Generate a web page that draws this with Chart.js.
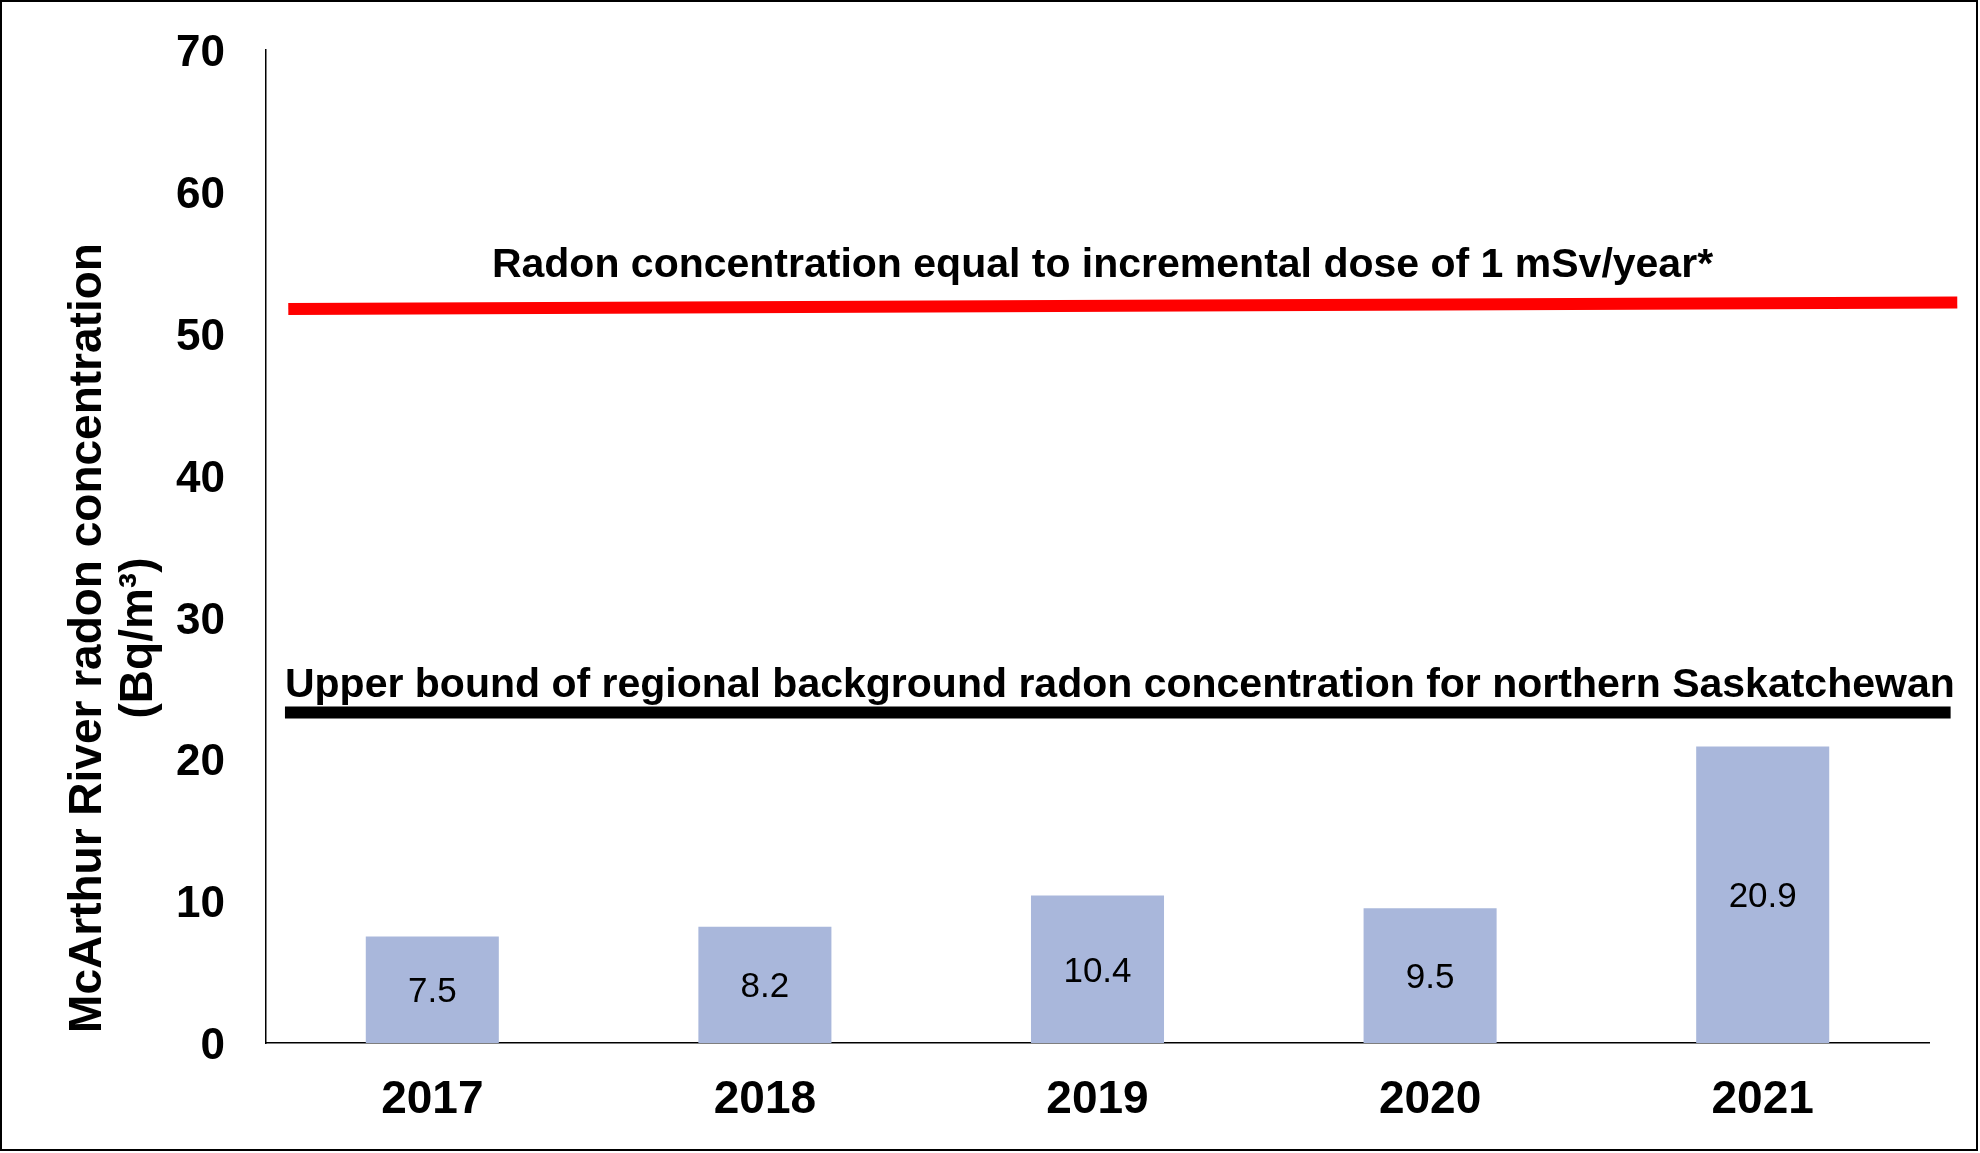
<!DOCTYPE html>
<html>
<head>
<meta charset="utf-8">
<title>McArthur River radon concentration</title>
<script src="https://cdn.jsdelivr.net/npm/chart.js@4.4.1/dist/chart.umd.min.js"></script>
<style>
  html, body { margin: 0; padding: 0; background: white; }
  canvas { display: block; }
</style>
</head>
<body>
<canvas id="chart" width="1980" height="1153"></canvas>
<script>
// data
const years = ['2017', '2018', '2019', '2020', '2021'];
const radon = [7.5, 8.2, 10.4, 9.5, 20.9];
const yTicks = [0, 10, 20, 30, 40, 50, 60, 70];

// reference lines: value at left end / right end, x range in category units
const doseLineValues = [51.75, 52.2];
const doseLineRange = [-0.433, 4.585];
const doseLabel = 'Radon concentration equal to incremental dose of 1 mSv/year*';
const backgroundLineValues = [23.3, 23.3];
const backgroundLineRange = [-0.443, 4.565];
const backgroundLabel = 'Upper bound of regional background radon concentration for northern Saskatchewan';

const yTitle = ['McArthur River radon concentration', '(Bq/m³)'];

const FONT = '"Liberation Sans", Arial, sans-serif';
const BAR_COLOR = '#A9B7DB';

const referenceLines = {
  id: 'referenceLines',
  afterDatasetsDraw(chart) {
    const ctx = chart.ctx;
    const x = chart.scales.x;
    const y = chart.scales.y;

    const lines = [
      { values: doseLineValues, range: doseLineRange, color: '#FF0000' },
      { values: backgroundLineValues, range: backgroundLineRange, color: '#000000' },
    ];

    ctx.save();
    ctx.lineWidth = 12;
    ctx.lineCap = 'butt';
    lines.forEach(l => {
      ctx.strokeStyle = l.color;
      ctx.beginPath();
      ctx.moveTo(x.getPixelForValue(l.range[0]), y.getPixelForValue(l.values[0]));
      ctx.lineTo(x.getPixelForValue(l.range[1]), y.getPixelForValue(l.values[1]));
      ctx.stroke();
    });

    ctx.fillStyle = '#000';
    ctx.font = `bold 41px ${FONT}`;
    ctx.textBaseline = 'alphabetic';

    ctx.textAlign = 'center';
    ctx.fillText(doseLabel, x.getPixelForValue(2.015), y.getPixelForValue(54.0));

    ctx.textAlign = 'left';
    ctx.fillText(backgroundLabel, x.getPixelForValue(backgroundLineRange[0]), y.getPixelForValue(24.39));

    // value labels in the middle of each bar
    ctx.font = `35px ${FONT}`;
    ctx.textAlign = 'center';
    ctx.textBaseline = 'middle';
    chart.getDatasetMeta(0).data.forEach((bar, i) => {
      ctx.fillText(radon[i].toFixed(1), bar.x, (bar.y + bar.base) / 2 + 3);
    });
    ctx.restore();
  },
  afterDraw(chart) {
    const ctx = chart.ctx;
    ctx.save();

    // y axis title, two lines, rotated
    ctx.fillStyle = '#000';
    ctx.font = `bold 46px ${FONT}`;
    ctx.textAlign = 'center';
    ctx.textBaseline = 'alphabetic';
    [[101, yTitle[0]], [152, yTitle[1]]].forEach(([bx, text]) => {
      ctx.save();
      ctx.translate(bx, 638);
      ctx.rotate(-Math.PI / 2);
      ctx.fillText(text, 0, 0);
      ctx.restore();
    });

    // outer frame
    ctx.strokeStyle = '#000';
    ctx.lineWidth = 2;
    ctx.strokeRect(1, 1, 1976, 1149);
    ctx.restore();
  },
};

new Chart(document.getElementById('chart').getContext('2d'), {
  type: 'bar',
  data: {
    labels: years,
    datasets: [
      {
        label: 'Radon',
        data: radon,
        backgroundColor: BAR_COLOR,
        borderWidth: 0,
        categoryPercentage: 1.0,
        barPercentage: 0.4,
      },
    ],
  },
  options: {
    responsive: false,
    devicePixelRatio: 1,
    animation: false,
    layout: {
      padding: { top: 50, right: 51, bottom: 0, left: 0 },
    },
    scales: {
      x: {
        grid: { display: false, drawTicks: false },
        border: { display: true, color: '#000', width: 1.5 },
        ticks: {
          color: '#000',
          font: { family: FONT, size: 46, weight: 'bold' },
          padding: 30,
        },
        afterFit: (scale) => {
          scale.height = 110;
          scale.paddingLeft = 0;
          scale.paddingRight = 0;
        },
      },
      y: {
        min: 0,
        max: 70,
        afterBuildTicks: (scale) => { scale.ticks = yTicks.map(v => ({ value: v })); },
        grid: { display: false, drawTicks: false },
        border: { display: true, color: '#000', width: 1.5 },
        ticks: {
          color: '#000',
          font: { family: FONT, size: 44, weight: 'bold' },
          padding: 41,
          labelOffset: 4,
        },
        afterFit: (scale) => {
          scale.width = 266;
          scale.paddingTop = 0;
          scale.paddingBottom = 0;
        },
      },
    },
    plugins: {
      legend: { display: false },
      tooltip: { enabled: false },
    },
  },
  plugins: [referenceLines],
});
</script>
</body>
</html>
